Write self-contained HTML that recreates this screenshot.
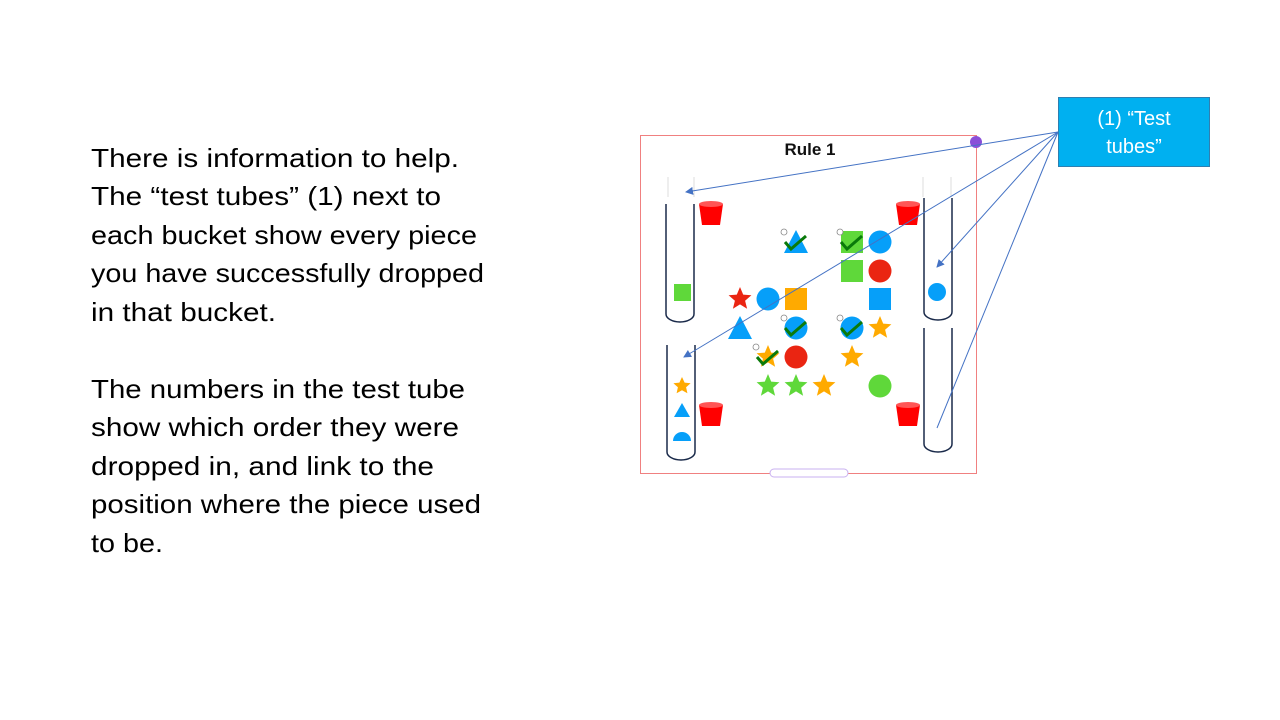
<!DOCTYPE html>
<html><head><meta charset="utf-8"><style>
html,body{margin:0;padding:0;background:#fff;width:1280px;height:720px;overflow:hidden}
svg{display:block}
</style></head><body>
<svg width="1280" height="720" xmlns="http://www.w3.org/2000/svg">
<defs>
<marker id="ah" markerWidth="8" markerHeight="8" refX="7" refY="4" orient="auto" markerUnits="userSpaceOnUse"><path d="M0,0 L8,4 L0,8 z" fill="#4472c4"/></marker>
</defs>
<g font-family="'Liberation Sans',sans-serif" font-size="26" fill="#000">
<text x="91" y="167" textLength="368" lengthAdjust="spacingAndGlyphs">There is information to help.</text>
<text x="91" y="205" textLength="350" lengthAdjust="spacingAndGlyphs">The “test tubes” (1) next to</text>
<text x="91" y="244" textLength="386" lengthAdjust="spacingAndGlyphs">each bucket show every piece</text>
<text x="91" y="282" textLength="393" lengthAdjust="spacingAndGlyphs">you have successfully dropped</text>
<text x="91" y="321" textLength="185" lengthAdjust="spacingAndGlyphs">in that bucket.</text>
<text x="91" y="398" textLength="374" lengthAdjust="spacingAndGlyphs">The numbers in the test tube</text>
<text x="91" y="436" textLength="368" lengthAdjust="spacingAndGlyphs">show which order they were</text>
<text x="91" y="475" textLength="343" lengthAdjust="spacingAndGlyphs">dropped in, and link to the</text>
<text x="91" y="513" textLength="390" lengthAdjust="spacingAndGlyphs">position where the piece used</text>
<text x="91" y="552" textLength="72" lengthAdjust="spacingAndGlyphs">to be.</text>
</g>
<g>
<rect x="640.5" y="135.5" width="336" height="338" fill="#fff" stroke="#f08080" stroke-width="1"/>
<text x="810" y="155" text-anchor="middle" font-family="'Liberation Sans',sans-serif" font-weight="bold" font-size="17" fill="#111">Rule 1</text>
<circle cx="976" cy="142" r="6" fill="#8a4fd8"/>
<rect x="770" y="469" width="78" height="8" rx="4" fill="#fff" stroke="#c9b0f0"/>
<g fill="#fff" stroke="#1a2a4a" stroke-width="1.5">
<path d="M666,204 V314 a14,8 0 0 0 28,0 V204"/>
<path d="M667,345 V452 a14,8 0 0 0 28,0 V345"/>
<path d="M924,198 V312 a14,8 0 0 0 28,0 V198"/>
<path d="M924,328 V444 a14,8 0 0 0 28,0 V328"/>
</g>
<g stroke="#ddd" stroke-width="1"><line x1="668" y1="177" x2="668" y2="197"/><line x1="694" y1="177" x2="694" y2="197"/><line x1="923" y1="177" x2="923" y2="197"/><line x1="951" y1="177" x2="951" y2="197"/></g>
<g fill="#f00">
<path d="M699,204 h24 l-3,21 h-18 z"/><ellipse cx="711" cy="204" rx="12" ry="3" fill="#f55"/>
<path d="M896,204 h24 l-3,21 h-18 z"/><ellipse cx="908" cy="204" rx="12" ry="3" fill="#f55"/>
<path d="M699,405 h24 l-3,21 h-18 z"/><ellipse cx="711" cy="405" rx="12" ry="3" fill="#f55"/>
<path d="M896,405 h24 l-3,21 h-18 z"/><ellipse cx="908" cy="405" rx="12" ry="3" fill="#f55"/>
</g>
<g id="pieces"></g>
<g>
<rect x="674" y="284" width="17" height="17" fill="#5fd83a"/>
<circle cx="937" cy="292" r="9" fill="#069ff9"/>
<path d="M682,377 l2.6,5.6 6,0.7 -4.5,4 1.3,6 -5.4,-3 -5.4,3 1.3,-6 -4.5,-4 6,-0.7z" fill="#ffaa00"/>
<path d="M682,403 l8,14 h-16z" fill="#069ff9"/>
<path d="M673,441 a9,9 0 0 1 18,0z" fill="#069ff9"/>
</g>
<g stroke="#4472c4" stroke-width="1" fill="none">
<line x1="1058" y1="132" x2="686" y2="192" marker-end="url(#ah)"/>
<line x1="1058" y1="132" x2="684" y2="357" marker-end="url(#ah)"/>
<line x1="1058" y1="132" x2="937" y2="267" marker-end="url(#ah)"/>
<line x1="1058" y1="132" x2="937" y2="428"/>
</g>
</g>
<g>
<rect x="1058.5" y="97.5" width="151" height="69" fill="#00b0f0" stroke="#2f7fb0"/>
<text x="1134" y="125" text-anchor="middle" font-family="'Liberation Sans',sans-serif" font-size="20" fill="#fff">(1) “Test</text>
<text x="1134" y="153" text-anchor="middle" font-family="'Liberation Sans',sans-serif" font-size="20" fill="#fff">tubes”</text>
</g>
</svg>
<script>
const cols=[740,768,796,824,852,880];
const rows=[242,271,299,328,357,386];
const shapes=['triangle','square','circle','square','circle','star','circle','square','square','triangle','circle','circle','star','star','circle','star','star','star','star','circle'];
const colors=['#069ff9','#5fd83a','#069ff9','#5fd83a','#ea2512','#ea2512','#069ff9','#ffaa00','#069ff9','#069ff9','#069ff9','#069ff9','#ffaa00','#ffaa00','#ea2512','#ffaa00','#5fd83a','#5fd83a','#ffaa00','#5fd83a'];
const colIdx=[2,4,5,4,5,0,1,2,5,0,2,4,5,1,2,4,1,2,3,5];
const rowIdx=[0,0,0,1,1,2,2,2,2,3,3,3,3,4,4,4,5,5,5,5];
const checked=[1,1,0,0,0,0,0,0,0,0,1,1,0,1,0,0,0,0,0,0];
const NS='http://www.w3.org/2000/svg';
const g=document.getElementById('pieces');
function star(cx,cy,R){let p=[];for(let i=0;i<10;i++){const r=i%2?R*0.45:R;const a=-Math.PI/2+i*Math.PI/5;p.push((cx+r*Math.cos(a)).toFixed(1)+','+(cy+r*Math.sin(a)).toFixed(1));}return p.join(' ');}
shapes.forEach((s,i)=>{
  const x=cols[colIdx[i]],y=rows[rowIdx[i]];let el;
  if(s==='circle'){el=document.createElementNS(NS,'circle');el.setAttribute('cx',x);el.setAttribute('cy',y);el.setAttribute('r',11.5);}
  else if(s==='square'){el=document.createElementNS(NS,'rect');el.setAttribute('x',x-11);el.setAttribute('y',y-11);el.setAttribute('width',22);el.setAttribute('height',22);}
  else if(s==='triangle'){el=document.createElementNS(NS,'polygon');el.setAttribute('points',`${x},${y-12} ${x+12},${y+11} ${x-12},${y+11}`);}
  else {el=document.createElementNS(NS,'polygon');el.setAttribute('points',star(x,y,12));}
  el.setAttribute('fill',colors[i]);
  
  
  g.appendChild(el);
  if(checked[i]){
    const c=document.createElementNS(NS,'path');
    c.setAttribute('d',`M${x-11},${y} l6,7 l15,-13`);
    c.setAttribute('stroke','#0a7a0a');c.setAttribute('stroke-width','3');c.setAttribute('fill','none');
    
    
    g.appendChild(c);
    const b=document.createElementNS(NS,'circle');
    b.setAttribute('cx',x-12);b.setAttribute('cy',y-10);b.setAttribute('r',3);
    b.setAttribute('fill','#fff');b.setAttribute('stroke','#888');b.setAttribute('stroke-width','0.8');
    
    
    g.appendChild(b);
  }
});
</script>
</body></html>
